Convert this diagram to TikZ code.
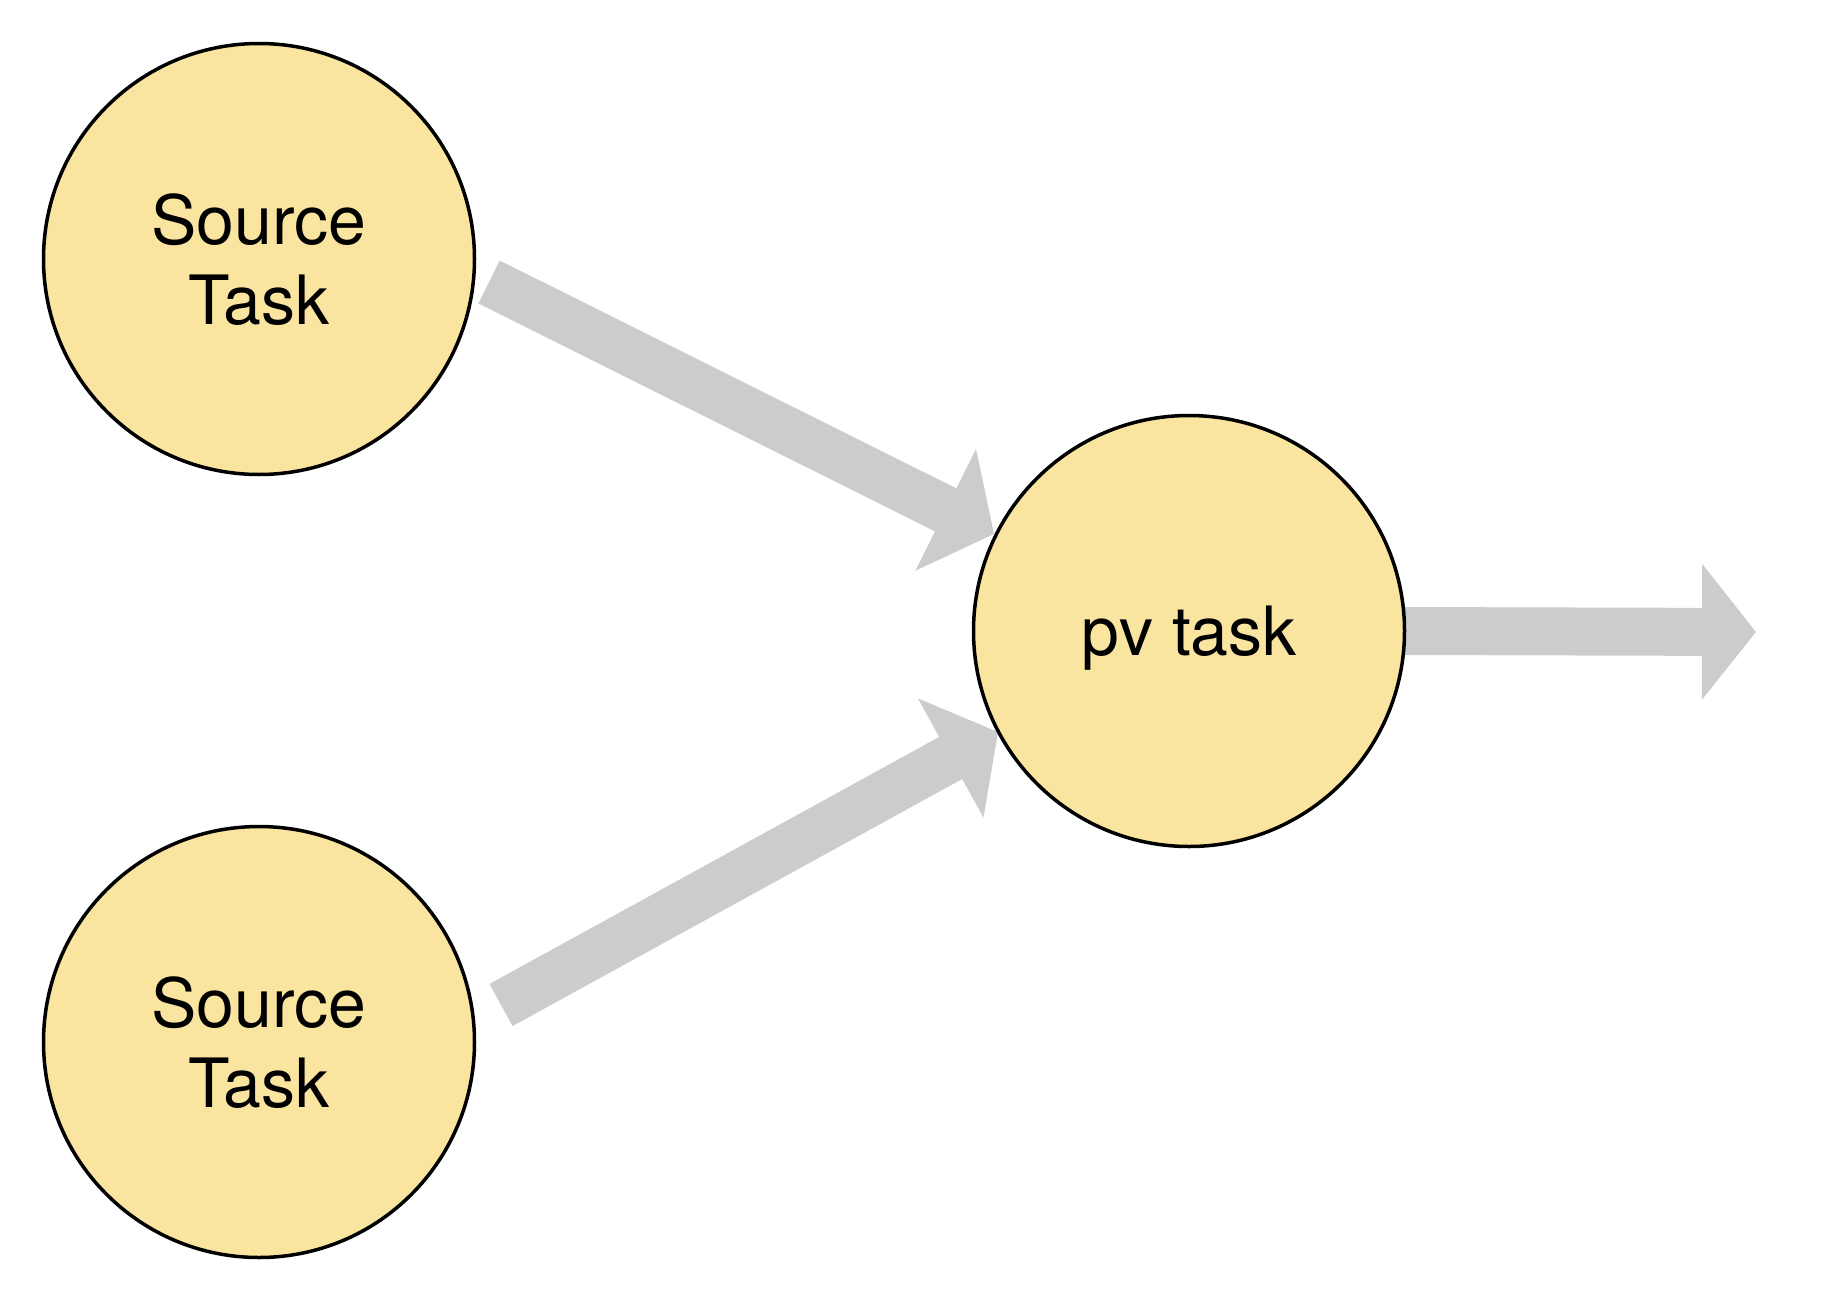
\documentclass[tikz,border=0pt]{standalone}
\usepackage{fontspec}
\setmainfont{TeX Gyre Heros}
\usetikzlibrary{calc}
\definecolor{taskfill}{HTML}{FAE5A0}
\definecolor{flowgray}{HTML}{CCCCCC}
\newcommand\flowarrow[2]{%
  \coordinate (fa-b) at ($(#2)!54pt!(#1)$);
  \fill[flowgray] ($(#1)!24pt!90:(#2)$) -- ($(fa-b)!24pt!-90:(#1)$) -- ($(fa-b)!68pt!-90:(#1)$) -- (#2)
    -- ($(fa-b)!68pt!90:(#1)$) -- ($(fa-b)!24pt!90:(#1)$) -- ($(#1)!24pt!-90:(#2)$) -- cycle;}
\begin{document}
\begin{tikzpicture}[x=1pt,y=-1pt,
  task/.style={circle, draw=black, line width=3.5pt, fill=taskfill, minimum size=431pt,
    inner sep=0pt, align=center, text depth=0pt, font=\fontsize{68}{80}\selectfont}]
\useasboundingbox (0,0) rectangle (1828,1290);
\coordinate (src1c) at (259,259);
\coordinate (src2c) at (259,1042);
\coordinate (pvc) at (1189,631);
% arrow end points
\coordinate (a1s) at ($(src1c)+(230,23)$);
\coordinate (a1t) at ($(pvc)+(-195,-97)$);
\coordinate (a2s) at ($(src2c)+(242,-37)$);
\coordinate (a2t) at ($(pvc)+(-191,101)$);
\coordinate (a3s) at ($(pvc)+(211,0)$);
\coordinate (out) at (1756,632);
\flowarrow{a1s}{a1t}
\flowarrow{a2s}{a2t}
\flowarrow{a3s}{out}
\node[task] (src1) at (src1c) {Source\\Task};
\node[task] (src2) at (src2c) {Source\\Task};
\node[task] (pv) at (pvc) {pv task};
\end{tikzpicture}
\end{document}
